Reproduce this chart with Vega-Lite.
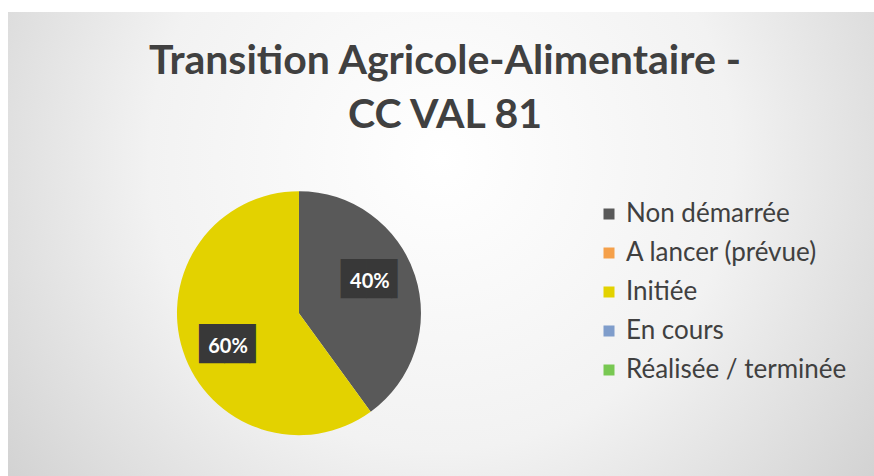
{
  "$schema": "https://vega.github.io/schema/vega-lite/v6.json",
  "width": 866,
  "height": 464,
  "autosize": {"type": "none"},
  "padding": {"left": 8, "top": 12, "right": 0, "bottom": 0},
  "background": "#ffffff",
  "view": {
    "stroke": null,
    "fill": {
      "gradient": "radial",
      "x1": 0.5, "y1": 0.4, "r1": 0,
      "x2": 0.5, "y2": 0.4, "r2": 0.75,
      "stops": [
        {"offset": 0, "color": "#ffffff"},
        {"offset": 0.45, "color": "#f2f2f2"},
        {"offset": 1, "color": "#c4c4c4"}
      ]
    }
  },
  "title": {
    "text": ["Transition Agricole-Alimentaire -", "CC VAL 81"],
    "font": "Lato",
    "fontSize": 41,
    "fontWeight": "bold",
    "color": "#404040",
    "anchor": "middle",
    "lineHeight": 54,
    "offset": -125,
    "dx": 4
  },
  "data": {
    "values": [
      {"statut": "Non démarrée", "part": 0.4},
      {"statut": "A lancer (prévue)", "part": 0},
      {"statut": "Initiée", "part": 0.6},
      {"statut": "En cours", "part": 0},
      {"statut": "Réalisée / terminée", "part": 0}
    ]
  },
  "encoding": {
    "theta": {"field": "part", "type": "quantitative", "stack": true},
    "order": {"field": "statut", "sort": "descending"},
    "color": {
      "field": "statut",
      "type": "nominal",
      "scale": {
        "domain": ["Non démarrée", "A lancer (prévue)", "Initiée", "En cours", "Réalisée / terminée"],
        "range": ["#595959", "#F5A04A", "#E3D200", "#7F9DCB", "#78C852"]
      },
      "legend": {
        "title": null,
        "orient": "none",
        "legendX": 588,
        "legendY": 189,
        "symbolType": "square",
        "symbolSize": 121,
        "symbolStrokeWidth": 0,
        "symbolOpacity": 1,
        "labelFont": "Lato",
        "labelFontSize": 26,
        "labelColor": "#404040",
        "labelOffset": 4,
        "rowPadding": 13,
        "labelLimit": 300
      }
    }
  },
  "layer": [
    {
      "mark": {
        "type": "arc",
        "outerRadius": 122,
        "x": {"expr": "width * 0.336"},
        "y": {"expr": "height * 0.649"}
      }
    },
    {
      "transform": [{"filter": "datum.part > 0"}],
      "mark": {
        "type": "text",
        "radius": 78,
        "thetaOffset": -0.115,
        "x": {"expr": "width * 0.336"},
        "y": {"expr": "height * 0.649"},
        "font": "DejaVu Sans",
        "fontSize": 33,
        "baseline": "middle",
        "align": "center",
        "dx": 9,
        "dy": -1
      },
      "encoding": {
        "text": {"value": "██▎"},
        "color": {"value": "#383838"}
      }
    },
    {
      "transform": [{"filter": "datum.part > 0"}],
      "mark": {
        "type": "text",
        "radius": 78,
        "thetaOffset": -0.115,
        "x": {"expr": "width * 0.336"},
        "y": {"expr": "height * 0.649"},
        "font": "Lato",
        "fontSize": 20,
        "fontWeight": "bold",
        "baseline": "middle",
        "align": "center",
        "dy": 1
      },
      "encoding": {
        "text": {"field": "part", "type": "quantitative", "format": ".0%"},
        "color": {"value": "#ffffff"}
      }
    }
  ]
}
